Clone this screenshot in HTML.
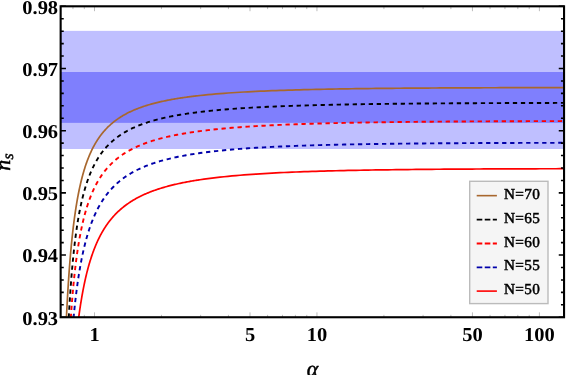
<!DOCTYPE html>
<html><head><meta charset="utf-8"><title>plot</title>
<style>
html,body{margin:0;padding:0;background:#fff;}
body{width:566px;height:375px;overflow:hidden;}
svg{display:block;will-change:transform;-webkit-font-smoothing:antialiased;text-rendering:geometricPrecision;}
text{font-family:"Liberation Serif",serif;fill:#000;}
.tk{font-weight:bold;font-size:19.7px;}
.lg{font-weight:normal;font-size:15.2px;stroke:#000;stroke-width:0.5px;letter-spacing:0.38px;}
.ax{font-style:italic;stroke:#000;stroke-width:0.5px;}
</style></head><body>
<svg width="566" height="375" viewBox="0 0 566 375">
<rect width="566" height="375" fill="#fff"/>

<defs><clipPath id="cp"><rect x="60.65" y="6.3" width="503.40" height="310.95"/></clipPath></defs>
<rect x="60.65" y="30.85" width="503.40" height="118.15" fill="#bfbfff"/>
<rect x="60.65" y="72.0" width="503.40" height="50.85" fill="#7f7ffd"/>
<g clip-path="url(#cp)" fill="none" stroke-linejoin="round">
<path d="M66.00,326.87 L66.25,321.38 L66.50,316.12 L66.75,311.07 L67.00,306.23 L67.25,301.58 L67.50,297.11 L67.75,292.81 L68.00,288.68 L68.25,284.69 L68.50,280.84 L68.75,277.14 L69.00,273.56 L69.25,270.10 L69.50,266.76 L69.75,263.53 L70.00,260.41 L70.25,257.38 L70.50,254.46 L70.75,251.62 L71.00,248.87 L71.25,246.20 L71.50,243.61 L71.75,241.10 L72.00,238.66 L72.25,236.29 L72.50,233.98 L72.75,231.74 L73.00,229.56 L73.25,227.44 L73.50,225.38 L73.75,223.37 L74.00,221.41 L74.25,219.50 L74.50,217.64 L74.75,215.83 L75.00,214.06 L75.25,212.34 L75.50,210.65 L75.75,209.01 L76.00,207.40 L76.25,205.84 L76.50,204.31 L76.75,202.81 L77.00,201.35 L77.25,199.92 L77.50,198.52 L77.75,197.15 L78.00,195.81 L78.25,194.50 L78.50,193.22 L78.75,191.96 L79.00,190.73 L79.25,189.53 L79.50,188.35 L79.75,187.19 L80.00,186.06 L80.25,184.95 L80.50,183.86 L80.75,182.79 L81.00,181.75 L81.25,180.72 L81.50,179.71 L81.75,178.72 L82.00,177.75 L82.25,176.80 L82.50,175.86 L82.75,174.94 L83.00,174.04 L83.25,173.15 L83.50,172.28 L83.75,171.42 L84.00,170.58 L84.25,169.75 L84.50,168.94 L84.75,168.14 L85.00,167.36 L85.25,166.58 L85.50,165.82 L85.75,165.08 L86.00,164.34 L86.25,163.62 L86.50,162.90 L86.75,162.20 L87.00,161.51 L87.25,160.83 L87.50,160.16 L87.75,159.51 L88.00,158.86 L88.25,158.22 L88.50,157.59 L88.75,156.97 L89.00,156.36 L89.25,155.76 L89.50,155.16 L89.75,154.58 L90.00,154.00 L90.25,153.44 L90.50,152.88 L90.75,152.33 L91.00,151.78 L91.25,151.25 L91.50,150.72 L91.75,150.19 L92.00,149.68 L92.25,149.17 L92.50,148.67 L92.75,148.18 L93.00,147.69 L93.25,147.21 L93.50,146.73 L93.75,146.27 L94.00,145.80 L94.25,145.35 L94.50,144.90 L94.75,144.45 L95.00,144.01 L95.25,143.58 L95.50,143.15 L95.75,142.73 L96.00,142.31 L96.25,141.90 L96.50,141.49 L96.75,141.09 L97.00,140.69 L97.25,140.30 L97.50,139.91 L97.75,139.52 L98.00,139.15 L98.25,138.77 L98.50,138.40 L98.75,138.03 L99.00,137.67 L99.25,137.32 L99.50,136.96 L99.75,136.61 L100.00,136.27 L100.25,135.93 L100.50,135.59 L100.75,135.25 L101.00,134.92 L101.25,134.60 L101.50,134.27 L101.75,133.95 L102.00,133.64 L102.25,133.33 L102.50,133.02 L102.75,132.71 L103.00,132.41 L103.25,132.11 L103.50,131.81 L103.75,131.52 L104.00,131.23 L104.25,130.94 L104.50,130.66 L104.75,130.38 L105.00,130.10 L105.25,129.82 L105.50,129.55 L105.75,129.28 L106.00,129.01 L106.25,128.75 L106.50,128.49 L106.75,128.23 L107.00,127.97 L107.25,127.72 L107.50,127.46 L107.75,127.21 L108.00,126.97 L108.25,126.72 L108.50,126.48 L108.75,126.24 L109.00,126.00 L109.25,125.77 L109.50,125.54 L109.75,125.30 L110.00,125.08 L110.25,124.85 L110.50,124.62 L110.75,124.40 L111.00,124.18 L111.25,123.96 L111.50,123.75 L111.75,123.53 L112.00,123.32 L112.25,123.11 L112.50,122.90 L112.75,122.69 L113.00,122.49 L113.25,122.29 L113.50,122.09 L113.75,121.89 L114.00,121.69 L114.25,121.49 L114.50,121.30 L114.75,121.10 L115.00,120.91 L115.25,120.72 L115.50,120.54 L115.75,120.35 L116.00,120.17 L116.25,119.98 L116.50,119.80 L116.75,119.62 L117.00,119.44 L117.25,119.27 L117.50,119.09 L117.75,118.92 L118.00,118.75 L118.25,118.57 L118.50,118.40 L118.75,118.24 L119.00,118.07 L119.25,117.90 L119.50,117.74 L119.75,117.58 L120.00,117.41 L121.00,116.78 L122.00,116.17 L123.00,115.57 L124.00,115.00 L125.00,114.44 L126.00,113.89 L127.00,113.37 L128.00,112.85 L129.00,112.36 L130.00,111.87 L131.00,111.40 L132.00,110.95 L133.00,110.50 L134.00,110.07 L135.00,109.65 L136.00,109.24 L137.00,108.84 L138.00,108.45 L139.00,108.07 L140.00,107.70 L141.00,107.34 L142.00,106.99 L143.00,106.65 L144.00,106.31 L145.00,105.99 L146.00,105.67 L147.00,105.36 L148.00,105.05 L149.00,104.75 L150.00,104.46 L151.00,104.18 L152.00,103.90 L153.00,103.63 L154.00,103.37 L155.00,103.11 L156.00,102.86 L157.00,102.61 L158.00,102.36 L159.00,102.13 L160.00,101.89 L161.00,101.67 L162.00,101.44 L163.00,101.23 L164.00,101.01 L165.00,100.80 L166.00,100.60 L167.00,100.40 L168.00,100.20 L169.00,100.00 L170.00,99.82 L171.00,99.63 L172.00,99.45 L173.00,99.27 L174.00,99.09 L175.00,98.92 L176.00,98.75 L177.00,98.59 L178.00,98.42 L179.00,98.26 L180.00,98.11 L181.00,97.95 L182.00,97.80 L183.00,97.66 L184.00,97.51 L185.00,97.37 L186.00,97.23 L187.00,97.09 L188.00,96.95 L189.00,96.82 L190.00,96.69 L191.00,96.56 L192.00,96.43 L193.00,96.31 L194.00,96.19 L195.00,96.07 L196.00,95.95 L197.00,95.83 L198.00,95.72 L199.00,95.61 L200.00,95.50 L204.00,95.07 L208.00,94.68 L212.00,94.30 L216.00,93.95 L220.00,93.63 L224.00,93.32 L228.00,93.02 L232.00,92.75 L236.00,92.49 L240.00,92.25 L244.00,92.02 L248.00,91.80 L252.00,91.59 L256.00,91.39 L260.00,91.21 L264.00,91.03 L268.00,90.87 L272.00,90.71 L276.00,90.56 L280.00,90.42 L284.00,90.28 L288.00,90.15 L292.00,90.03 L296.00,89.91 L300.00,89.80 L304.00,89.70 L308.00,89.60 L312.00,89.50 L316.00,89.41 L320.00,89.33 L324.00,89.24 L328.00,89.16 L332.00,89.09 L336.00,89.02 L340.00,88.95 L344.00,88.88 L348.00,88.82 L352.00,88.76 L356.00,88.71 L360.00,88.65 L364.00,88.60 L368.00,88.55 L372.00,88.51 L376.00,88.46 L380.00,88.42 L384.00,88.38 L388.00,88.34 L392.00,88.30 L396.00,88.26 L400.00,88.23 L404.00,88.20 L408.00,88.17 L412.00,88.14 L416.00,88.11 L420.00,88.08 L424.00,88.05 L428.00,88.03 L432.00,88.00 L436.00,87.98 L440.00,87.96 L444.00,87.94 L448.00,87.92 L452.00,87.90 L456.00,87.88 L460.00,87.86 L464.00,87.85 L468.00,87.83 L472.00,87.81 L476.00,87.80 L480.00,87.79 L484.00,87.77 L488.00,87.76 L492.00,87.75 L496.00,87.74 L500.00,87.72 L504.00,87.71 L508.00,87.70 L512.00,87.69 L516.00,87.68 L520.00,87.67 L524.00,87.66 L528.00,87.66 L532.00,87.65 L536.00,87.64 L540.00,87.63 L544.00,87.63 L548.00,87.62 L552.00,87.61 L556.00,87.61 L560.00,87.60 L564.00,87.59 L564.50,87.59" stroke="#a8672e" stroke-width="1.7"/>
<path d="M68.25,327.91 L68.50,322.92 L68.75,318.13 L69.00,313.55 L69.25,309.14 L69.50,304.91 L69.75,300.84 L70.00,296.93 L70.25,293.16 L70.50,289.52 L70.75,286.02 L71.00,282.64 L71.25,279.38 L71.50,276.22 L71.75,273.17 L72.00,270.22 L72.25,267.37 L72.50,264.60 L72.75,261.93 L73.00,259.33 L73.25,256.81 L73.50,254.37 L73.75,252.00 L74.00,249.70 L74.25,247.46 L74.50,245.28 L74.75,243.17 L75.00,241.11 L75.25,239.11 L75.50,237.16 L75.75,235.27 L76.00,233.42 L76.25,231.62 L76.50,229.86 L76.75,228.15 L77.00,226.48 L77.25,224.85 L77.50,223.26 L77.75,221.71 L78.00,220.19 L78.25,218.71 L78.50,217.26 L78.75,215.85 L79.00,214.47 L79.25,213.11 L79.50,211.79 L79.75,210.50 L80.00,209.23 L80.25,207.99 L80.50,206.77 L80.75,205.59 L81.00,204.42 L81.25,203.28 L81.50,202.16 L81.75,201.07 L82.00,199.99 L82.25,198.94 L82.50,197.91 L82.75,196.89 L83.00,195.90 L83.25,194.92 L83.50,193.97 L83.75,193.03 L84.00,192.10 L84.25,191.20 L84.50,190.31 L84.75,189.44 L85.00,188.58 L85.25,187.73 L85.50,186.90 L85.75,186.09 L86.00,185.29 L86.25,184.50 L86.50,183.73 L86.75,182.97 L87.00,182.22 L87.25,181.48 L87.50,180.76 L87.75,180.04 L88.00,179.34 L88.25,178.65 L88.50,177.97 L88.75,177.30 L89.00,176.64 L89.25,175.99 L89.50,175.36 L89.75,174.73 L90.00,174.11 L90.25,173.50 L90.50,172.89 L90.75,172.30 L91.00,171.72 L91.25,171.14 L91.50,170.57 L91.75,170.01 L92.00,169.46 L92.25,168.92 L92.50,168.38 L92.75,167.85 L93.00,167.33 L93.25,166.82 L93.50,166.31 L93.75,165.81 L94.00,165.31 L94.25,164.83 L94.50,164.35 L94.75,163.87 L95.00,163.40 L95.25,162.94 L95.50,162.48 L95.75,162.03 L96.00,161.59 L96.25,161.15 L96.50,160.71 L96.75,160.29 L97.00,159.86 L97.25,159.45 L97.50,159.03 L97.75,158.62 L98.00,158.22 L98.25,157.82 L98.50,157.43 L98.75,157.04 L99.00,156.66 L99.25,156.28 L99.50,155.90 L99.75,155.53 L100.00,155.17 L100.25,154.80 L100.50,154.45 L100.75,154.09 L101.00,153.74 L101.25,153.40 L101.50,153.05 L101.75,152.72 L102.00,152.38 L102.25,152.05 L102.50,151.72 L102.75,151.40 L103.00,151.08 L103.25,150.76 L103.50,150.45 L103.75,150.14 L104.00,149.83 L104.25,149.53 L104.50,149.23 L104.75,148.93 L105.00,148.64 L105.25,148.35 L105.50,148.06 L105.75,147.77 L106.00,147.49 L106.25,147.21 L106.50,146.93 L106.75,146.66 L107.00,146.39 L107.25,146.12 L107.50,145.86 L107.75,145.59 L108.00,145.33 L108.25,145.07 L108.50,144.82 L108.75,144.57 L109.00,144.31 L109.25,144.07 L109.50,143.82 L109.75,143.58 L110.00,143.34 L110.25,143.10 L110.50,142.86 L110.75,142.63 L111.00,142.39 L111.25,142.16 L111.50,141.94 L111.75,141.71 L112.00,141.49 L112.25,141.26 L112.50,141.04 L112.75,140.83 L113.00,140.61 L113.25,140.40 L113.50,140.18 L113.75,139.97 L114.00,139.77 L114.25,139.56 L114.50,139.35 L114.75,139.15 L115.00,138.95 L115.25,138.75 L115.50,138.55 L115.75,138.36 L116.00,138.16 L116.25,137.97 L116.50,137.78 L116.75,137.59 L117.00,137.40 L117.25,137.21 L117.50,137.03 L117.75,136.85 L118.00,136.66 L118.25,136.48 L118.50,136.31 L118.75,136.13 L119.00,135.95 L119.25,135.78 L119.50,135.61 L119.75,135.43 L120.00,135.26 L121.00,134.60 L122.00,133.95 L123.00,133.32 L124.00,132.71 L125.00,132.12 L126.00,131.55 L127.00,131.00 L128.00,130.46 L129.00,129.93 L130.00,129.42 L131.00,128.92 L132.00,128.44 L133.00,127.97 L134.00,127.52 L135.00,127.07 L136.00,126.64 L137.00,126.22 L138.00,125.80 L139.00,125.40 L140.00,125.01 L141.00,124.63 L142.00,124.26 L143.00,123.89 L144.00,123.54 L145.00,123.19 L146.00,122.86 L147.00,122.53 L148.00,122.20 L149.00,121.89 L150.00,121.58 L151.00,121.28 L152.00,120.98 L153.00,120.69 L154.00,120.41 L155.00,120.14 L156.00,119.87 L157.00,119.60 L158.00,119.34 L159.00,119.09 L160.00,118.84 L161.00,118.60 L162.00,118.36 L163.00,118.13 L164.00,117.90 L165.00,117.67 L166.00,117.45 L167.00,117.24 L168.00,117.03 L169.00,116.82 L170.00,116.62 L171.00,116.42 L172.00,116.22 L173.00,116.03 L174.00,115.84 L175.00,115.65 L176.00,115.47 L177.00,115.29 L178.00,115.12 L179.00,114.95 L180.00,114.78 L181.00,114.61 L182.00,114.45 L183.00,114.29 L184.00,114.13 L185.00,113.98 L186.00,113.83 L187.00,113.68 L188.00,113.53 L189.00,113.39 L190.00,113.24 L191.00,113.10 L192.00,112.97 L193.00,112.83 L194.00,112.70 L195.00,112.57 L196.00,112.44 L197.00,112.31 L198.00,112.19 L199.00,112.07 L200.00,111.95 L204.00,111.48 L208.00,111.05 L212.00,110.64 L216.00,110.26 L220.00,109.89 L224.00,109.55 L228.00,109.23 L232.00,108.92 L236.00,108.63 L240.00,108.36 L244.00,108.10 L248.00,107.86 L252.00,107.62 L256.00,107.40 L260.00,107.19 L264.00,107.00 L268.00,106.81 L272.00,106.63 L276.00,106.46 L280.00,106.29 L284.00,106.14 L288.00,105.99 L292.00,105.85 L296.00,105.72 L300.00,105.59 L304.00,105.47 L308.00,105.35 L312.00,105.24 L316.00,105.13 L320.00,105.03 L324.00,104.93 L328.00,104.84 L332.00,104.75 L336.00,104.67 L340.00,104.59 L344.00,104.51 L348.00,104.44 L352.00,104.37 L356.00,104.30 L360.00,104.23 L364.00,104.17 L368.00,104.11 L372.00,104.05 L376.00,104.00 L380.00,103.95 L384.00,103.90 L388.00,103.85 L392.00,103.80 L396.00,103.76 L400.00,103.72 L404.00,103.68 L408.00,103.64 L412.00,103.60 L416.00,103.57 L420.00,103.53 L424.00,103.50 L428.00,103.47 L432.00,103.44 L436.00,103.41 L440.00,103.38 L444.00,103.36 L448.00,103.33 L452.00,103.31 L456.00,103.28 L460.00,103.26 L464.00,103.24 L468.00,103.22 L472.00,103.20 L476.00,103.18 L480.00,103.16 L484.00,103.14 L488.00,103.13 L492.00,103.11 L496.00,103.09 L500.00,103.08 L504.00,103.07 L508.00,103.05 L512.00,103.04 L516.00,103.03 L520.00,103.01 L524.00,103.00 L528.00,102.99 L532.00,102.98 L536.00,102.97 L540.00,102.96 L544.00,102.95 L548.00,102.94 L552.00,102.93 L556.00,102.92 L560.00,102.92 L564.00,102.91 L564.50,102.91" stroke="#000000" stroke-width="1.9" stroke-dasharray="4.3 3.71" stroke-dashoffset="5.79"/>
<path d="M70.25,326.68 L70.50,322.71 L70.75,318.89 L71.00,315.21 L71.25,311.66 L71.50,308.23 L71.75,304.91 L72.00,301.71 L72.25,298.61 L72.50,295.61 L72.75,292.70 L73.00,289.89 L73.25,287.16 L73.50,284.51 L73.75,281.94 L74.00,279.45 L74.25,277.03 L74.50,274.68 L74.75,272.39 L75.00,270.17 L75.25,268.01 L75.50,265.91 L75.75,263.86 L76.00,261.86 L76.25,259.92 L76.50,258.03 L76.75,256.18 L77.00,254.38 L77.25,252.62 L77.50,250.91 L77.75,249.24 L78.00,247.60 L78.25,246.01 L78.50,244.45 L78.75,242.93 L79.00,241.44 L79.25,239.98 L79.50,238.56 L79.75,237.17 L80.00,235.80 L80.25,234.47 L80.50,233.16 L80.75,231.89 L81.00,230.63 L81.25,229.41 L81.50,228.21 L81.75,227.03 L82.00,225.87 L82.25,224.74 L82.50,223.63 L82.75,222.54 L83.00,221.48 L83.25,220.43 L83.50,219.40 L83.75,218.39 L84.00,217.40 L84.25,216.43 L84.50,215.47 L84.75,214.54 L85.00,213.62 L85.25,212.71 L85.50,211.82 L85.75,210.95 L86.00,210.09 L86.25,209.24 L86.50,208.41 L86.75,207.59 L87.00,206.79 L87.25,206.00 L87.50,205.22 L87.75,204.46 L88.00,203.71 L88.25,202.96 L88.50,202.24 L88.75,201.52 L89.00,200.81 L89.25,200.11 L89.50,199.43 L89.75,198.75 L90.00,198.09 L90.25,197.43 L90.50,196.79 L90.75,196.15 L91.00,195.53 L91.25,194.91 L91.50,194.30 L91.75,193.70 L92.00,193.11 L92.25,192.52 L92.50,191.95 L92.75,191.38 L93.00,190.82 L93.25,190.27 L93.50,189.73 L93.75,189.19 L94.00,188.66 L94.25,188.14 L94.50,187.62 L94.75,187.11 L95.00,186.61 L95.25,186.11 L95.50,185.62 L95.75,185.14 L96.00,184.66 L96.25,184.19 L96.50,183.73 L96.75,183.27 L97.00,182.81 L97.25,182.37 L97.50,181.92 L97.75,181.49 L98.00,181.05 L98.25,180.63 L98.50,180.20 L98.75,179.79 L99.00,179.38 L99.25,178.97 L99.50,178.57 L99.75,178.17 L100.00,177.78 L100.25,177.39 L100.50,177.00 L100.75,176.62 L101.00,176.25 L101.25,175.88 L101.50,175.51 L101.75,175.15 L102.00,174.79 L102.25,174.43 L102.50,174.08 L102.75,173.73 L103.00,173.39 L103.25,173.05 L103.50,172.71 L103.75,172.38 L104.00,172.05 L104.25,171.72 L104.50,171.40 L104.75,171.08 L105.00,170.77 L105.25,170.45 L105.50,170.15 L105.75,169.84 L106.00,169.54 L106.25,169.24 L106.50,168.94 L106.75,168.65 L107.00,168.35 L107.25,168.07 L107.50,167.78 L107.75,167.50 L108.00,167.22 L108.25,166.94 L108.50,166.67 L108.75,166.39 L109.00,166.13 L109.25,165.86 L109.50,165.59 L109.75,165.33 L110.00,165.07 L110.25,164.82 L110.50,164.56 L110.75,164.31 L111.00,164.06 L111.25,163.81 L111.50,163.57 L111.75,163.33 L112.00,163.09 L112.25,162.85 L112.50,162.61 L112.75,162.38 L113.00,162.14 L113.25,161.91 L113.50,161.69 L113.75,161.46 L114.00,161.24 L114.25,161.01 L114.50,160.79 L114.75,160.58 L115.00,160.36 L115.25,160.14 L115.50,159.93 L115.75,159.72 L116.00,159.51 L116.25,159.30 L116.50,159.10 L116.75,158.89 L117.00,158.69 L117.25,158.49 L117.50,158.29 L117.75,158.10 L118.00,157.90 L118.25,157.71 L118.50,157.51 L118.75,157.32 L119.00,157.13 L119.25,156.95 L119.50,156.76 L119.75,156.58 L120.00,156.39 L121.00,155.67 L122.00,154.98 L123.00,154.30 L124.00,153.65 L125.00,153.01 L126.00,152.39 L127.00,151.79 L128.00,151.21 L129.00,150.65 L130.00,150.10 L131.00,149.56 L132.00,149.04 L133.00,148.53 L134.00,148.04 L135.00,147.56 L136.00,147.09 L137.00,146.64 L138.00,146.19 L139.00,145.76 L140.00,145.34 L141.00,144.92 L142.00,144.52 L143.00,144.13 L144.00,143.74 L145.00,143.37 L146.00,143.00 L147.00,142.64 L148.00,142.30 L149.00,141.95 L150.00,141.62 L151.00,141.29 L152.00,140.97 L153.00,140.66 L154.00,140.36 L155.00,140.06 L156.00,139.76 L157.00,139.48 L158.00,139.19 L159.00,138.92 L160.00,138.65 L161.00,138.39 L162.00,138.13 L163.00,137.87 L164.00,137.62 L165.00,137.38 L166.00,137.14 L167.00,136.91 L168.00,136.68 L169.00,136.45 L170.00,136.23 L171.00,136.01 L172.00,135.80 L173.00,135.59 L174.00,135.39 L175.00,135.18 L176.00,134.99 L177.00,134.79 L178.00,134.60 L179.00,134.41 L180.00,134.23 L181.00,134.05 L182.00,133.87 L183.00,133.70 L184.00,133.52 L185.00,133.36 L186.00,133.19 L187.00,133.03 L188.00,132.87 L189.00,132.71 L190.00,132.55 L191.00,132.40 L192.00,132.25 L193.00,132.10 L194.00,131.96 L195.00,131.81 L196.00,131.67 L197.00,131.54 L198.00,131.40 L199.00,131.27 L200.00,131.13 L204.00,130.63 L208.00,130.15 L212.00,129.70 L216.00,129.28 L220.00,128.88 L224.00,128.50 L228.00,128.15 L232.00,127.81 L236.00,127.49 L240.00,127.19 L244.00,126.91 L248.00,126.63 L252.00,126.38 L256.00,126.13 L260.00,125.90 L264.00,125.68 L268.00,125.47 L272.00,125.27 L276.00,125.08 L280.00,124.90 L284.00,124.73 L288.00,124.56 L292.00,124.40 L296.00,124.25 L300.00,124.11 L304.00,123.98 L308.00,123.84 L312.00,123.72 L316.00,123.60 L320.00,123.49 L324.00,123.38 L328.00,123.28 L332.00,123.18 L336.00,123.08 L340.00,122.99 L344.00,122.90 L348.00,122.82 L352.00,122.74 L356.00,122.66 L360.00,122.59 L364.00,122.52 L368.00,122.45 L372.00,122.39 L376.00,122.33 L380.00,122.27 L384.00,122.21 L388.00,122.16 L392.00,122.10 L396.00,122.05 L400.00,122.01 L404.00,121.96 L408.00,121.92 L412.00,121.87 L416.00,121.83 L420.00,121.79 L424.00,121.76 L428.00,121.72 L432.00,121.69 L436.00,121.65 L440.00,121.62 L444.00,121.59 L448.00,121.56 L452.00,121.53 L456.00,121.51 L460.00,121.48 L464.00,121.46 L468.00,121.43 L472.00,121.41 L476.00,121.39 L480.00,121.37 L484.00,121.35 L488.00,121.33 L492.00,121.31 L496.00,121.29 L500.00,121.27 L504.00,121.25 L508.00,121.24 L512.00,121.22 L516.00,121.21 L520.00,121.19 L524.00,121.18 L528.00,121.17 L532.00,121.16 L536.00,121.14 L540.00,121.13 L544.00,121.12 L548.00,121.11 L552.00,121.10 L556.00,121.09 L560.00,121.08 L564.00,121.07 L564.50,121.07" stroke="#ff0000" stroke-width="1.9" stroke-dasharray="4.3 3.71" stroke-dashoffset="7.32"/>
<path d="M72.50,329.42 L72.75,326.52 L73.00,323.70 L73.25,320.95 L73.50,318.28 L73.75,315.68 L74.00,313.16 L74.25,310.69 L74.50,308.29 L74.75,305.96 L75.00,303.68 L75.25,301.46 L75.50,299.29 L75.75,297.18 L76.00,295.12 L76.25,293.10 L76.50,291.14 L76.75,289.22 L77.00,287.34 L77.25,285.51 L77.50,283.71 L77.75,281.96 L78.00,280.25 L78.25,278.57 L78.50,276.93 L78.75,275.32 L79.00,273.75 L79.25,272.21 L79.50,270.70 L79.75,269.23 L80.00,267.78 L80.25,266.36 L80.50,264.97 L80.75,263.61 L81.00,262.27 L81.25,260.96 L81.50,259.68 L81.75,258.42 L82.00,257.18 L82.25,255.97 L82.50,254.78 L82.75,253.61 L83.00,252.46 L83.25,251.33 L83.50,250.22 L83.75,249.13 L84.00,248.06 L84.25,247.01 L84.50,245.98 L84.75,244.96 L85.00,243.97 L85.25,242.98 L85.50,242.02 L85.75,241.07 L86.00,240.14 L86.25,239.22 L86.50,238.31 L86.75,237.42 L87.00,236.55 L87.25,235.69 L87.50,234.84 L87.75,234.00 L88.00,233.18 L88.25,232.37 L88.50,231.57 L88.75,230.79 L89.00,230.02 L89.25,229.25 L89.50,228.50 L89.75,227.76 L90.00,227.03 L90.25,226.32 L90.50,225.61 L90.75,224.91 L91.00,224.22 L91.25,223.54 L91.50,222.87 L91.75,222.21 L92.00,221.56 L92.25,220.92 L92.50,220.29 L92.75,219.66 L93.00,219.04 L93.25,218.44 L93.50,217.84 L93.75,217.24 L94.00,216.66 L94.25,216.08 L94.50,215.51 L94.75,214.95 L95.00,214.40 L95.25,213.85 L95.50,213.31 L95.75,212.77 L96.00,212.24 L96.25,211.72 L96.50,211.21 L96.75,210.70 L97.00,210.20 L97.25,209.70 L97.50,209.21 L97.75,208.73 L98.00,208.25 L98.25,207.77 L98.50,207.31 L98.75,206.84 L99.00,206.39 L99.25,205.94 L99.50,205.49 L99.75,205.05 L100.00,204.61 L100.25,204.18 L100.50,203.76 L100.75,203.33 L101.00,202.92 L101.25,202.50 L101.50,202.10 L101.75,201.69 L102.00,201.29 L102.25,200.90 L102.50,200.51 L102.75,200.12 L103.00,199.74 L103.25,199.36 L103.50,198.99 L103.75,198.62 L104.00,198.25 L104.25,197.89 L104.50,197.53 L104.75,197.18 L105.00,196.83 L105.25,196.48 L105.50,196.13 L105.75,195.79 L106.00,195.46 L106.25,195.12 L106.50,194.79 L106.75,194.47 L107.00,194.14 L107.25,193.82 L107.50,193.50 L107.75,193.19 L108.00,192.88 L108.25,192.57 L108.50,192.26 L108.75,191.96 L109.00,191.66 L109.25,191.36 L109.50,191.07 L109.75,190.78 L110.00,190.49 L110.25,190.20 L110.50,189.92 L110.75,189.64 L111.00,189.36 L111.25,189.09 L111.50,188.81 L111.75,188.54 L112.00,188.28 L112.25,188.01 L112.50,187.75 L112.75,187.49 L113.00,187.23 L113.25,186.97 L113.50,186.72 L113.75,186.47 L114.00,186.22 L114.25,185.97 L114.50,185.72 L114.75,185.48 L115.00,185.24 L115.25,185.00 L115.50,184.77 L115.75,184.53 L116.00,184.30 L116.25,184.07 L116.50,183.84 L116.75,183.61 L117.00,183.39 L117.25,183.16 L117.50,182.94 L117.75,182.72 L118.00,182.50 L118.25,182.29 L118.50,182.07 L118.75,181.86 L119.00,181.65 L119.25,181.44 L119.50,181.24 L119.75,181.03 L120.00,180.83 L121.00,180.03 L122.00,179.25 L123.00,178.50 L124.00,177.77 L125.00,177.07 L126.00,176.38 L127.00,175.71 L128.00,175.07 L129.00,174.44 L130.00,173.83 L131.00,173.24 L132.00,172.66 L133.00,172.10 L134.00,171.55 L135.00,171.02 L136.00,170.50 L137.00,170.00 L138.00,169.50 L139.00,169.02 L140.00,168.56 L141.00,168.10 L142.00,167.66 L143.00,167.22 L144.00,166.80 L145.00,166.39 L146.00,165.98 L147.00,165.59 L148.00,165.20 L149.00,164.83 L150.00,164.46 L151.00,164.10 L152.00,163.75 L153.00,163.41 L154.00,163.07 L155.00,162.74 L156.00,162.42 L157.00,162.11 L158.00,161.80 L159.00,161.50 L160.00,161.20 L161.00,160.91 L162.00,160.63 L163.00,160.35 L164.00,160.08 L165.00,159.82 L166.00,159.56 L167.00,159.30 L168.00,159.05 L169.00,158.80 L170.00,158.56 L171.00,158.33 L172.00,158.09 L173.00,157.87 L174.00,157.64 L175.00,157.43 L176.00,157.21 L177.00,157.00 L178.00,156.79 L179.00,156.59 L180.00,156.39 L181.00,156.20 L182.00,156.00 L183.00,155.81 L184.00,155.63 L185.00,155.45 L186.00,155.27 L187.00,155.09 L188.00,154.92 L189.00,154.75 L190.00,154.58 L191.00,154.42 L192.00,154.26 L193.00,154.10 L194.00,153.94 L195.00,153.79 L196.00,153.64 L197.00,153.49 L198.00,153.35 L199.00,153.20 L200.00,153.06 L204.00,152.52 L208.00,152.01 L212.00,151.53 L216.00,151.09 L220.00,150.67 L224.00,150.27 L228.00,149.89 L232.00,149.54 L236.00,149.21 L240.00,148.89 L244.00,148.60 L248.00,148.31 L252.00,148.05 L256.00,147.79 L260.00,147.55 L264.00,147.33 L268.00,147.11 L272.00,146.91 L276.00,146.71 L280.00,146.53 L284.00,146.35 L288.00,146.19 L292.00,146.03 L296.00,145.88 L300.00,145.73 L304.00,145.60 L308.00,145.46 L312.00,145.34 L316.00,145.22 L320.00,145.11 L324.00,145.00 L328.00,144.90 L332.00,144.80 L336.00,144.71 L340.00,144.62 L344.00,144.53 L348.00,144.45 L352.00,144.37 L356.00,144.30 L360.00,144.23 L364.00,144.16 L368.00,144.09 L372.00,144.03 L376.00,143.97 L380.00,143.92 L384.00,143.86 L388.00,143.81 L392.00,143.76 L396.00,143.71 L400.00,143.67 L404.00,143.62 L408.00,143.58 L412.00,143.54 L416.00,143.50 L420.00,143.47 L424.00,143.43 L428.00,143.40 L432.00,143.37 L436.00,143.34 L440.00,143.31 L444.00,143.28 L448.00,143.25 L452.00,143.23 L456.00,143.20 L460.00,143.18 L464.00,143.16 L468.00,143.13 L472.00,143.11 L476.00,143.09 L480.00,143.07 L484.00,143.06 L488.00,143.04 L492.00,143.02 L496.00,143.01 L500.00,142.99 L504.00,142.98 L508.00,142.96 L512.00,142.95 L516.00,142.94 L520.00,142.92 L524.00,142.91 L528.00,142.90 L532.00,142.89 L536.00,142.88 L540.00,142.87 L544.00,142.86 L548.00,142.85 L552.00,142.84 L556.00,142.83 L560.00,142.82 L564.00,142.82 L564.50,142.81" stroke="#0000aa" stroke-width="1.9" stroke-dasharray="4.3 3.71" stroke-dashoffset="4.56"/>
<path d="M77.25,329.11 L77.50,326.98 L77.75,324.91 L78.00,322.88 L78.25,320.90 L78.50,318.97 L78.75,317.08 L79.00,315.23 L79.25,313.42 L79.50,311.65 L79.75,309.92 L80.00,308.23 L80.25,306.57 L80.50,304.95 L80.75,303.36 L81.00,301.80 L81.25,300.28 L81.50,298.78 L81.75,297.32 L82.00,295.88 L82.25,294.48 L82.50,293.10 L82.75,291.74 L83.00,290.41 L83.25,289.11 L83.50,287.83 L83.75,286.58 L84.00,285.34 L84.25,284.13 L84.50,282.95 L84.75,281.78 L85.00,280.63 L85.25,279.51 L85.50,278.40 L85.75,277.31 L86.00,276.24 L86.25,275.19 L86.50,274.16 L86.75,273.14 L87.00,272.14 L87.25,271.16 L87.50,270.19 L87.75,269.24 L88.00,268.31 L88.25,267.38 L88.50,266.48 L88.75,265.58 L89.00,264.71 L89.25,263.84 L89.50,262.99 L89.75,262.15 L90.00,261.32 L90.25,260.51 L90.50,259.71 L90.75,258.92 L91.00,258.14 L91.25,257.37 L91.50,256.62 L91.75,255.87 L92.00,255.14 L92.25,254.41 L92.50,253.70 L92.75,252.99 L93.00,252.30 L93.25,251.61 L93.50,250.94 L93.75,250.27 L94.00,249.61 L94.25,248.97 L94.50,248.33 L94.75,247.69 L95.00,247.07 L95.25,246.46 L95.50,245.85 L95.75,245.25 L96.00,244.66 L96.25,244.08 L96.50,243.50 L96.75,242.93 L97.00,242.37 L97.25,241.81 L97.50,241.26 L97.75,240.72 L98.00,240.19 L98.25,239.66 L98.50,239.14 L98.75,238.62 L99.00,238.11 L99.25,237.61 L99.50,237.11 L99.75,236.62 L100.00,236.13 L100.25,235.65 L100.50,235.18 L100.75,234.71 L101.00,234.25 L101.25,233.79 L101.50,233.33 L101.75,232.89 L102.00,232.44 L102.25,232.00 L102.50,231.57 L102.75,231.14 L103.00,230.72 L103.25,230.30 L103.50,229.88 L103.75,229.47 L104.00,229.07 L104.25,228.67 L104.50,228.27 L104.75,227.87 L105.00,227.49 L105.25,227.10 L105.50,226.72 L105.75,226.34 L106.00,225.97 L106.25,225.60 L106.50,225.23 L106.75,224.87 L107.00,224.51 L107.25,224.16 L107.50,223.81 L107.75,223.46 L108.00,223.12 L108.25,222.78 L108.50,222.44 L108.75,222.11 L109.00,221.77 L109.25,221.45 L109.50,221.12 L109.75,220.80 L110.00,220.48 L110.25,220.17 L110.50,219.86 L110.75,219.55 L111.00,219.24 L111.25,218.94 L111.50,218.64 L111.75,218.34 L112.00,218.04 L112.25,217.75 L112.50,217.46 L112.75,217.18 L113.00,216.89 L113.25,216.61 L113.50,216.33 L113.75,216.05 L114.00,215.78 L114.25,215.51 L114.50,215.24 L114.75,214.97 L115.00,214.71 L115.25,214.44 L115.50,214.18 L115.75,213.93 L116.00,213.67 L116.25,213.42 L116.50,213.17 L116.75,212.92 L117.00,212.67 L117.25,212.43 L117.50,212.18 L117.75,211.94 L118.00,211.70 L118.25,211.47 L118.50,211.23 L118.75,211.00 L119.00,210.77 L119.25,210.54 L119.50,210.31 L119.75,210.09 L120.00,209.86 L121.00,208.99 L122.00,208.14 L123.00,207.32 L124.00,206.52 L125.00,205.75 L126.00,205.00 L127.00,204.28 L128.00,203.57 L129.00,202.89 L130.00,202.22 L131.00,201.58 L132.00,200.95 L133.00,200.33 L134.00,199.74 L135.00,199.16 L136.00,198.60 L137.00,198.05 L138.00,197.51 L139.00,196.99 L140.00,196.49 L141.00,195.99 L142.00,195.51 L143.00,195.04 L144.00,194.58 L145.00,194.13 L146.00,193.69 L147.00,193.27 L148.00,192.85 L149.00,192.44 L150.00,192.04 L151.00,191.65 L152.00,191.27 L153.00,190.90 L154.00,190.54 L155.00,190.18 L156.00,189.83 L157.00,189.49 L158.00,189.16 L159.00,188.84 L160.00,188.52 L161.00,188.20 L162.00,187.90 L163.00,187.60 L164.00,187.31 L165.00,187.02 L166.00,186.74 L167.00,186.46 L168.00,186.19 L169.00,185.93 L170.00,185.67 L171.00,185.41 L172.00,185.16 L173.00,184.91 L174.00,184.67 L175.00,184.44 L176.00,184.21 L177.00,183.98 L178.00,183.76 L179.00,183.54 L180.00,183.32 L181.00,183.11 L182.00,182.90 L183.00,182.70 L184.00,182.50 L185.00,182.30 L186.00,182.11 L187.00,181.92 L188.00,181.74 L189.00,181.55 L190.00,181.37 L191.00,181.20 L192.00,181.02 L193.00,180.85 L194.00,180.68 L195.00,180.52 L196.00,180.36 L197.00,180.20 L198.00,180.04 L199.00,179.89 L200.00,179.73 L204.00,179.15 L208.00,178.61 L212.00,178.09 L216.00,177.61 L220.00,177.16 L224.00,176.73 L228.00,176.33 L232.00,175.95 L236.00,175.59 L240.00,175.25 L244.00,174.93 L248.00,174.63 L252.00,174.34 L256.00,174.07 L260.00,173.81 L264.00,173.57 L268.00,173.34 L272.00,173.12 L276.00,172.91 L280.00,172.71 L284.00,172.52 L288.00,172.34 L292.00,172.17 L296.00,172.01 L300.00,171.85 L304.00,171.70 L308.00,171.56 L312.00,171.43 L316.00,171.30 L320.00,171.18 L324.00,171.07 L328.00,170.95 L332.00,170.85 L336.00,170.75 L340.00,170.65 L344.00,170.56 L348.00,170.47 L352.00,170.39 L356.00,170.31 L360.00,170.23 L364.00,170.16 L368.00,170.09 L372.00,170.02 L376.00,169.96 L380.00,169.90 L384.00,169.84 L388.00,169.78 L392.00,169.73 L396.00,169.68 L400.00,169.63 L404.00,169.58 L408.00,169.54 L412.00,169.49 L416.00,169.45 L420.00,169.41 L424.00,169.38 L428.00,169.34 L432.00,169.31 L436.00,169.27 L440.00,169.24 L444.00,169.21 L448.00,169.18 L452.00,169.15 L456.00,169.13 L460.00,169.10 L464.00,169.08 L468.00,169.05 L472.00,169.03 L476.00,169.01 L480.00,168.99 L484.00,168.97 L488.00,168.95 L492.00,168.93 L496.00,168.92 L500.00,168.90 L504.00,168.88 L508.00,168.87 L512.00,168.85 L516.00,168.84 L520.00,168.83 L524.00,168.81 L528.00,168.80 L532.00,168.79 L536.00,168.78 L540.00,168.77 L544.00,168.76 L548.00,168.74 L552.00,168.74 L556.00,168.73 L560.00,168.72 L564.00,168.71 L564.50,168.71" stroke="#ff0000" stroke-width="1.7"/>
</g>
<path d="M94.50,317.25 v-4.9 M94.50,6.3 v4.9 M249.99,317.25 v-4.9 M249.99,6.3 v4.9 M316.95,317.25 v-4.9 M316.95,6.3 v4.9 M472.44,317.25 v-4.9 M472.44,6.3 v4.9 M539.40,317.25 v-4.9 M539.40,6.3 v4.9 M72.94,317.25 v-2.4 M72.94,6.3 v2.8 M84.32,317.25 v-2.4 M84.32,6.3 v2.8 M161.46,317.25 v-2.4 M161.46,6.3 v2.8 M200.64,317.25 v-2.4 M200.64,6.3 v2.8 M228.43,317.25 v-2.4 M228.43,6.3 v2.8 M267.60,317.25 v-2.4 M267.60,6.3 v2.8 M282.49,317.25 v-2.4 M282.49,6.3 v2.8 M295.39,317.25 v-2.4 M295.39,6.3 v2.8 M306.77,317.25 v-2.4 M306.77,6.3 v2.8 M383.91,317.25 v-2.4 M383.91,6.3 v2.8 M423.09,317.25 v-2.4 M423.09,6.3 v2.8 M450.88,317.25 v-2.4 M450.88,6.3 v2.8 M490.05,317.25 v-2.4 M490.05,6.3 v2.8 M504.94,317.25 v-2.4 M504.94,6.3 v2.8 M517.84,317.25 v-2.4 M517.84,6.3 v2.8 M529.22,317.25 v-2.4 M529.22,6.3 v2.8" stroke="#7a7a7a" stroke-width="0.5" fill="none"/>
<path d="M60.65,6.30 h5.3 M564.05,6.30 h-5.3 M60.65,18.74 h3.1 M564.05,18.74 h-3.1 M60.65,31.18 h3.1 M564.05,31.18 h-3.1 M60.65,43.61 h3.1 M564.05,43.61 h-3.1 M60.65,56.05 h3.1 M564.05,56.05 h-3.1 M60.65,68.49 h5.3 M564.05,68.49 h-5.3 M60.65,80.93 h3.1 M564.05,80.93 h-3.1 M60.65,93.37 h3.1 M564.05,93.37 h-3.1 M60.65,105.80 h3.1 M564.05,105.80 h-3.1 M60.65,118.24 h3.1 M564.05,118.24 h-3.1 M60.65,130.68 h5.3 M564.05,130.68 h-5.3 M60.65,143.12 h3.1 M564.05,143.12 h-3.1 M60.65,155.56 h3.1 M564.05,155.56 h-3.1 M60.65,167.99 h3.1 M564.05,167.99 h-3.1 M60.65,180.43 h3.1 M564.05,180.43 h-3.1 M60.65,192.87 h5.3 M564.05,192.87 h-5.3 M60.65,205.31 h3.1 M564.05,205.31 h-3.1 M60.65,217.75 h3.1 M564.05,217.75 h-3.1 M60.65,230.18 h3.1 M564.05,230.18 h-3.1 M60.65,242.62 h3.1 M564.05,242.62 h-3.1 M60.65,255.06 h5.3 M564.05,255.06 h-5.3 M60.65,267.50 h3.1 M564.05,267.50 h-3.1 M60.65,279.94 h3.1 M564.05,279.94 h-3.1 M60.65,292.37 h3.1 M564.05,292.37 h-3.1 M60.65,304.81 h3.1 M564.05,304.81 h-3.1 M60.65,317.25 h5.3 M564.05,317.25 h-5.3" stroke="#000" stroke-width="1.6" fill="none"/>
<rect x="60.65" y="6.3" width="503.40" height="310.95" fill="none" stroke="#000" stroke-width="2.1"/>
<text class="tk" transform="translate(58.1,13.5) scale(1.04,1)" text-anchor="end">0.98</text>
<text class="tk" transform="translate(58.1,75.7) scale(1.04,1)" text-anchor="end">0.97</text>
<text class="tk" transform="translate(58.1,137.9) scale(1.04,1)" text-anchor="end">0.96</text>
<text class="tk" transform="translate(58.1,200.1) scale(1.04,1)" text-anchor="end">0.95</text>
<text class="tk" transform="translate(58.1,262.3) scale(1.04,1)" text-anchor="end">0.94</text>
<text class="tk" transform="translate(58.1,324.5) scale(1.04,1)" text-anchor="end">0.93</text>
<text class="tk" transform="translate(94.5,340.9) scale(1.04,1)" text-anchor="middle">1</text>
<text class="tk" transform="translate(250.0,340.9) scale(1.04,1)" text-anchor="middle">5</text>
<text class="tk" transform="translate(316.9,340.9) scale(1.04,1)" text-anchor="middle">10</text>
<text class="tk" transform="translate(472.4,340.9) scale(1.04,1)" text-anchor="middle">50</text>
<text class="tk" transform="translate(539.4,340.9) scale(1.04,1)" text-anchor="middle">100</text>
<text class="ax" x="312.6" y="375.9" text-anchor="middle" font-size="22px">α</text>
<g transform="translate(10.2,170.8) rotate(-90)"><text class="ax" x="0" y="0" font-size="22px">n<tspan font-size="15.6px" x="11.4" dy="3">s</tspan></text></g>
<rect x="469.7" y="181.3" width="78.3" height="122.3" fill="#f5f5f5" stroke="#bbbbbb" stroke-width="1.4"/>
<path d="M476.7,195.65 H496.9" stroke="#a8672e" stroke-width="1.6" fill="none"/>
<text class="lg" x="504" y="198.7">N=70</text>
<path d="M476.7,219.6 H496.9" stroke="#000000" stroke-width="1.8" stroke-dasharray="5.6 2.45" fill="none"/>
<text class="lg" x="504" y="222.6">N=65</text>
<path d="M476.7,243.5 H496.9" stroke="#ff0000" stroke-width="1.8" stroke-dasharray="5.6 2.45" fill="none"/>
<text class="lg" x="504" y="246.5">N=60</text>
<path d="M476.7,267.35 H496.9" stroke="#0000aa" stroke-width="1.8" stroke-dasharray="5.6 2.45" fill="none"/>
<text class="lg" x="504" y="270.4">N=55</text>
<path d="M476.7,291.1 H496.9" stroke="#ff0000" stroke-width="1.6" fill="none"/>
<text class="lg" x="504" y="294.1">N=50</text>
</svg></body></html>
